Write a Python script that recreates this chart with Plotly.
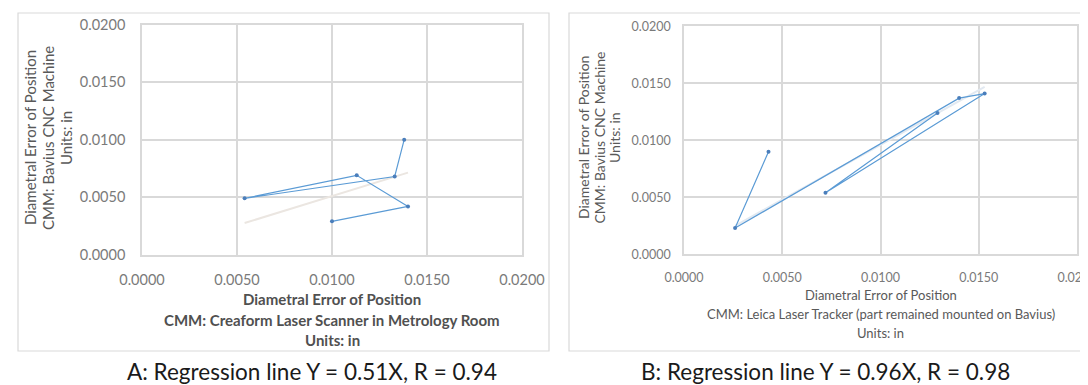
import plotly.graph_objects as go

# ---- data ----
a_x = [0.0138, 0.0133, 0.0054, 0.0113, 0.0140, 0.0100]
a_y = [0.0100, 0.0068, 0.0049, 0.0069, 0.0042, 0.0029]
a_slope = 0.51

b_x = [0.0043, 0.0026, 0.0140, 0.0153, 0.0072, 0.0129]
b_y = [0.0090, 0.0023, 0.0137, 0.0141, 0.0054, 0.0124]
b_slope = 0.96

tick_vals = [0.0, 0.005, 0.010, 0.015, 0.020]
tick_text = ["0.0000", "0.0050", "0.0100", "0.0150", "0.0200"]

y_title_lines = ["Diametral Error of Position", "CMM: Bavius CNC Machine", "Units: in"]
a_x_title_lines = ["Diametral Error of Position", "CMM: Creaform Laser Scanner in Metrology Room", "Units: in"]
b_x_title_lines = ["Diametral Error of Position", "CMM: Leica Laser Tracker (part remained mounted on Bavius)", "Units: in"]
captions = ["A: Regression line Y = 0.51X, R = 0.94", "B: Regression line Y = 0.96X, R = 0.98"]

W, H = 1088, 385
FONT = "Lato"
GRID = "#d9d9d9"
LINE_C = "#5b9bd5"
MARK_C = "#4a7ebb"


def px(x):
    return x / W


def py(y):
    return 1 - y / H


fig = go.Figure()

# trendlines
for xs, s, ax, col in [(a_x, a_slope, ("x", "y"), "#ebe6e1"), (b_x, b_slope, ("x2", "y2"), "#e2e9f1")]:
    tx = [min(xs), max(xs)]
    fig.add_trace(go.Scatter(x=tx, y=[s * v for v in tx], mode="lines",
                             line=dict(color=col, width=2),
                             xaxis=ax[0], yaxis=ax[1], showlegend=False, hoverinfo="skip"))

fig.add_trace(go.Scatter(x=a_x, y=a_y, mode="lines+markers",
                         line=dict(color=LINE_C, width=1.2),
                         marker=dict(color=MARK_C, size=4),
                         xaxis="x", yaxis="y", showlegend=False))
fig.add_trace(go.Scatter(x=b_x, y=b_y, mode="lines+markers",
                         line=dict(color=LINE_C, width=1.2),
                         marker=dict(color=MARK_C, size=4),
                         xaxis="x2", yaxis="y2", showlegend=False))


def axis(domain, anchor, tsize, tlen):
    return dict(domain=domain, anchor=anchor, range=[0, 0.02], tickvals=tick_vals,
                ticktext=tick_text, showgrid=True, gridcolor=GRID, gridwidth=1.5,
                zeroline=False, showline=True, linecolor=GRID, linewidth=1.5, mirror=True,
                ticks="outside", ticklen=tlen, tickcolor="rgba(0,0,0,0)", automargin=False,
                ticklabeloverflow="allow",
                tickfont=dict(family=FONT, size=tsize, color="#7a7a7a"), fixedrange=True)


# plot areas in pixels
A = dict(x0=134, x1=514, y0=16.7, y1=246.7)
B = dict(x0=676, x1=1069, y0=18.3, y1=246.3)

fig.update_layout(
    template="none",
    width=W, height=H, margin=dict(l=0, r=0, t=0, b=0, pad=0), autosize=False,
    paper_bgcolor="white", plot_bgcolor="white",
    xaxis=axis([px(A["x0"]), px(A["x1"])], "y", 14.5, 11),
    yaxis=axis([py(A["y1"]), py(A["y0"])], "x", 14.5, 12),
    xaxis2=axis([px(B["x0"]), px(B["x1"])], "y2", 12.5, 11),
    yaxis2=axis([py(B["y1"]), py(B["y0"])], "x2", 12.5, 9),
    showlegend=False,
)

# frames
fig.add_shape(type="rect", xref="paper", yref="paper", x0=px(10), x1=px(541), y0=py(343), y1=py(5),
              line=dict(color="#d9d9d9", width=1.2))
fig.add_shape(type="rect", xref="paper", yref="paper", x0=px(561), x1=px(1100), y0=py(343), y1=py(5),
              line=dict(color="#d9d9d9", width=1.2))

ann = []
# left y title
for xc, t in zip([22, 40, 58], y_title_lines):
    ann.append(dict(x=px(xc), y=py(130), text=t, textangle=-90, showarrow=False,
                    font=dict(family=FONT, size=15, color="#595959"),
                    xanchor="center", yanchor="middle"))
# right y title
for xc, t in zip([575, 590.5, 606], y_title_lines):
    ann.append(dict(x=px(xc), y=py(130), text=t, textangle=-90, showarrow=False,
                    font=dict(family=FONT, size=14, color="#595959"),
                    xanchor="center", yanchor="middle"))
# left x title
for yc, t in zip([291, 312, 332], a_x_title_lines):
    ann.append(dict(x=px((A["x0"] + A["x1"]) / 2), y=py(yc), text="<b>" + t + "</b>", showarrow=False,
                    font=dict(family=FONT, size=15, color="#505050"),
                    xanchor="center", yanchor="middle"))
# right x title
for yc, t in zip([287, 306, 325], b_x_title_lines):
    ann.append(dict(x=px((B["x0"] + B["x1"]) / 2), y=py(yc), text=t, showarrow=False,
                    font=dict(family=FONT, size=13, color="#595959"),
                    xanchor="center", yanchor="middle"))
# captions
for xc, t in zip([304, 817], captions):
    ann.append(dict(x=px(xc), y=py(363), text=t, showarrow=False,
                    font=dict(family=FONT, size=22.5, color="#1a1a1a"),
                    xanchor="center", yanchor="middle"))

for a in ann:
    fig.add_annotation(xref="paper", yref="paper", **a)

fig.write_html("out.html")
